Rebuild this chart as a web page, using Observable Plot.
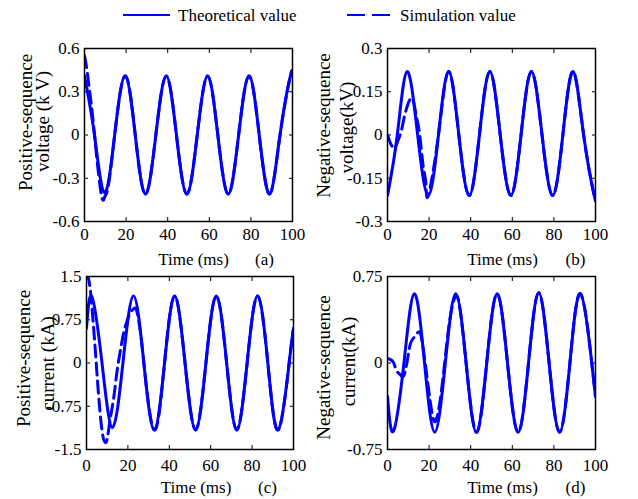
<!DOCTYPE html>
<html>
<head>
<meta charset="utf-8">
<script src="https://cdn.jsdelivr.net/npm/d3@7"></script>
<script src="https://cdn.jsdelivr.net/npm/@observablehq/plot@0.6"></script>
<style>
html, body { margin: 0; padding: 0; background: #fff; }
#chart { position: relative; width: 638px; height: 499px; overflow: hidden; background: #fff;
  font-family: "Liberation Serif", "Times New Roman", serif; }
.panel { position: absolute; }
#legend { position: absolute; left: 0; top: 0; }
</style>
</head>
<body>
<div id="chart"></div>
<script>
// ---------- data ----------
const legendLabels = ["Theoretical value", "Simulation value"];
const xTicks = [0, 20, 40, 60, 80, 100];
const xLabel = "Time (ms)";
const panelTags = ["(a)", "(b)", "(c)", "(d)"];

// (a) positive-sequence voltage (kV)
const yTicksA = [-0.6, -0.3, 0, 0.3, 0.6];
const timeTheoA = [0, 4.8, 9.6, 14.5, 19.5, 24.4, 29.3, 34.3, 39.3, 44.2, 49.2, 54.2, 59.2, 64.1, 69.1, 74.1, 79.1, 84.0, 89.0, 94.0, 99.0, 100];
const theoA = [0.41, 0, -0.40, 0, 0.41, 0, -0.41, 0, 0.41, 0, -0.41, 0, 0.41, 0, -0.41, 0, 0.41, 0, -0.41, 0, 0.41, 0.41];
const timeSimA = [0, 1, 2.5, 4, 5.5, 7, 8.3, 9.2, 10, 11.5, 14.5, 19.5, 24.4, 29.3, 34.3, 39.3, 44.2, 49.2, 54.2, 59.2, 64.1, 69.1, 74.1, 79.1, 84.0, 89.0, 94.0, 99.0, 100];
const simA = [0.55, 0.47, 0.30, 0.12, -0.10, -0.30, -0.43, -0.45, -0.42, -0.35, 0, 0.41, 0, -0.41, 0, 0.41, 0, -0.41, 0, 0.41, 0, -0.41, 0, 0.41, 0, -0.41, 0, 0.41, 0.41];

// (b) negative-sequence voltage (kV)
const yTicksB = [-0.3, -0.15, 0, 0.15, 0.3];
const timeTheoB = [0, 4.7, 9.4, 14.5, 19.6, 24.5, 29.4, 34.3, 39.3, 44.2, 49.2, 54.2, 59.3, 64.2, 69.2, 74.3, 79.4, 84.3, 89.2, 94.3, 99.4, 100];
const theoB = [-0.21, 0, 0.22, 0, -0.21, 0, 0.22, 0, -0.21, 0, 0.22, 0, -0.21, 0, 0.22, 0, -0.21, 0, 0.22, 0, -0.21, -0.21];
const timeSimB = [0, 1.5, 3.4, 5, 6.5, 8, 9.5, 11, 12.5, 14, 15.5, 17.2, 18.5, 19.6, 24.5, 29.4, 34.3, 39.3, 44.2, 49.2, 54.2, 59.3, 64.2, 69.2, 74.3, 79.4, 84.3, 89.2, 94.3, 99.4, 100];
const simB = [0, -0.03, -0.045, -0.02, 0.01, 0.06, 0.10, 0.125, 0.115, 0.06, 0, -0.11, -0.17, -0.21, 0, 0.22, 0, -0.21, 0, 0.22, 0, -0.21, 0, 0.22, 0, -0.21, 0, 0.22, 0, -0.21, -0.21];

// (c) positive-sequence current (kA)
const yTicksC = [-1.5, -0.75, 0, 0.75, 1.5];
const timeTheoC = [0, 2.6, 7.5, 12.5, 17.6, 22.7, 27.7, 32.7, 37.7, 42.6, 47.6, 52.7, 57.7, 62.7, 67.7, 72.6, 77.6, 82.6, 87.6, 92.6, 97.9, 100];
const theoC = [0.6, 1.15, 0, -1.12, 0, 1.16, 0, -1.16, 0, 1.16, 0, -1.16, 0, 1.16, 0, -1.16, 0, 1.16, 0, -1.16, 0, 0.6];
const timeSimC = [0.5, 1.9, 3.2, 4.3, 5.5, 6.8, 8, 9.2, 10.2, 11.6, 13.2, 14.8, 16.4, 18, 19.7, 21.2, 22.8, 24.3, 26, 27.7, 32.7, 37.7, 42.6, 47.6, 52.7, 57.7, 62.7, 67.7, 72.6, 77.6, 82.6, 87.6, 92.6, 97.9, 100];
const simC = [1.55, 1.25, 0.72, 0.2, -0.4, -0.95, -1.28, -1.38, -1.28, -0.94, -0.59, -0.13, 0.22, 0.53, 0.74, 0.88, 0.94, 0.9, 0.55, 0, -1.16, 0, 1.16, 0, -1.16, 0, 1.16, 0, -1.16, 0, 1.16, 0, -1.16, 0, 0.6];

// (d) negative-sequence current (kA)
const yTicksD = [-0.75, 0, 0.75];
const timeTheoD = [0, 2.9, 7.9, 12.9, 17.8, 22.7, 27.8, 32.8, 37.8, 42.7, 47.7, 52.7, 57.7, 62.8, 67.8, 72.7, 77.7, 82.7, 87.7, 92.8, 98.2, 100];
const theoD = [-0.29, -0.59, 0, 0.6, 0, -0.6, 0, 0.6, 0, -0.6, 0, 0.6, 0, -0.6, 0, 0.61, 0, -0.6, 0, 0.6, 0, -0.29];
const timeSimD = [0, 1.5, 3, 4.3, 6, 7.8, 9.5, 11, 12.7, 15, 16.5, 18.5, 20.5, 22.3, 23.8, 25.5, 27.8, 30, 32.8, 35, 37.8, 42.7, 47.7, 52.7, 57.7, 62.8, 67.8, 72.7, 77.7, 82.7, 87.7, 92.8, 98.2, 100];
const simD = [0.036, 0.03, 0, -0.065, -0.1, -0.11, 0.02, 0.166, 0.22, 0.27, 0.2, -0.05, -0.33, -0.5, -0.47, -0.3, 0.05, 0.38, 0.58, 0.45, 0, -0.6, 0, 0.6, 0, -0.6, 0, 0.61, 0, -0.6, 0, 0.6, 0, -0.29];

// ---------- layout ----------
const BLUE = "#0000ff";
const FONT = '"Liberation Serif", "Times New Roman", serif';
const chart = document.getElementById("chart");

const panels = [
  {left: 0, top: 32, h: 233, ml: 84, mr: 27, mt: 16, mb: 44, yd: [-0.6, 0.6], yt: yTicksA,
   tt: timeTheoA, th: theoA, ts: timeSimA, sm: simA, tag: panelTags[0], xpad: 10,
   ylab: [["Positive-sequence", -59, -12.5], ["voltage (k V)", -42, -13.5]], xdx: 5, tdx: 76, xdy: 38},
  {left: 319, top: 32, h: 233, ml: 68, mr: 43, mt: 16, mb: 44, yd: [-0.3, 0.3], yt: yTicksB,
   tt: timeTheoB, th: theoB, ts: timeSimB, sm: simB, tag: panelTags[1], xpad: 10,
   ylab: [["Negative-sequence", -64, -9.5], ["voltage(kV)", -41, -7.5]], xdx: 11, tdx: 84, xdy: 38},
  {left: 0, top: 265, h: 234, ml: 86, mr: 26, mt: 11, mb: 50, yd: [-1.5, 1.5], yt: yTicksC,
   tt: timeTheoC, th: theoC, ts: timeSimC, sm: simC, tag: panelTags[2], xpad: 13,
   ylab: [["Positive-sequence", -62.5, -4.5], ["current (kA)", -39, 0.5]], xdx: 6, tdx: 77.5, xdy: 38},
  {left: 319, top: 265, h: 234, ml: 68, mr: 43, mt: 11, mb: 50, yd: [-0.75, 0.75], yt: yTicksD,
   tt: timeTheoD, th: theoD, ts: timeSimD, sm: simD, tag: panelTags[3], xpad: 13,
   ylab: [["Negative-sequence", -64, 4.5], ["current(kA)", -39, -1.5]], xdx: 11, tdx: 84, xdy: 38}
];

const fmt = d => String(d);
const blank = () => "";

for (const p of panels) {
  const theo = p.tt.map((t, i) => ({t, v: p.th[i]}));
  const sim = p.ts.map((t, i) => ({t, v: p.sm[i]}));
  const svg = Plot.plot({
    width: 319, height: p.h,
    marginLeft: p.ml, marginRight: p.mr, marginTop: p.mt, marginBottom: p.mb,
    style: {fontFamily: FONT, fontSize: "17px", background: "transparent", overflow: "visible", color: "black"},
    x: {domain: [0, 100]},
    y: {domain: p.yd},
    marks: [
      Plot.axisX({anchor: "bottom", ticks: xTicks, tickSize: -4, tickPadding: p.xpad, tickFormat: fmt, label: null}),
      Plot.axisX({anchor: "top", ticks: xTicks, tickSize: -4, tickFormat: blank, label: null}),
      Plot.axisY({anchor: "left", ticks: p.yt, tickSize: -4, tickPadding: 9, tickFormat: fmt, label: null}),
      Plot.axisY({anchor: "right", ticks: p.yt, tickSize: -4, tickFormat: blank, label: null}),
      Plot.line(theo, {x: "t", y: "v", stroke: BLUE, strokeWidth: 3, curve: "natural", clip: true}),
      Plot.line(sim, {x: "t", y: "v", stroke: BLUE, strokeWidth: 3, strokeDasharray: "12,6", curve: "natural", clip: true}),
      Plot.frame({stroke: "black", strokeWidth: 1.5}),
      Plot.text([xLabel], {text: d => d, frameAnchor: "bottom", textAnchor: "middle", lineAnchor: "middle",
        dx: p.xdx, dy: p.xdy, fontSize: 17, fill: "black"}),
      Plot.text([p.tag], {text: d => d, frameAnchor: "bottom", textAnchor: "middle", lineAnchor: "middle",
        dx: p.tdx, dy: p.xdy, fontSize: 17, fill: "black"}),
      ...p.ylab.map(([s, dx, dy]) =>
        Plot.text([s], {text: d => d, frameAnchor: "left", textAnchor: "middle", lineAnchor: "middle",
          rotate: -90, dx, dy, fontSize: 19, fill: "black"}))
    ]
  });
  svg.classList.add("panel");
  svg.style.left = p.left + "px";
  svg.style.top = p.top + "px";
  chart.appendChild(svg);
}

// ---------- legend ----------
const ns = "http://www.w3.org/2000/svg";
const leg = document.createElementNS(ns, "svg");
leg.setAttribute("id", "legend");
leg.setAttribute("width", 638);
leg.setAttribute("height", 30);
leg.innerHTML = `
  <line x1="123" x2="170" y1="15" y2="15" stroke="${BLUE}" stroke-width="2.2"/>
  <text x="178" y="21" font-family='${FONT}' font-size="17" fill="black">${legendLabels[0]}</text>
  <line x1="347" x2="391" y1="15" y2="15" stroke="${BLUE}" stroke-width="2.2" stroke-dasharray="18,7"/>
  <text x="400" y="21" font-family='${FONT}' font-size="17" fill="black">${legendLabels[1]}</text>`;
chart.appendChild(leg);
</script>
</body>
</html>
